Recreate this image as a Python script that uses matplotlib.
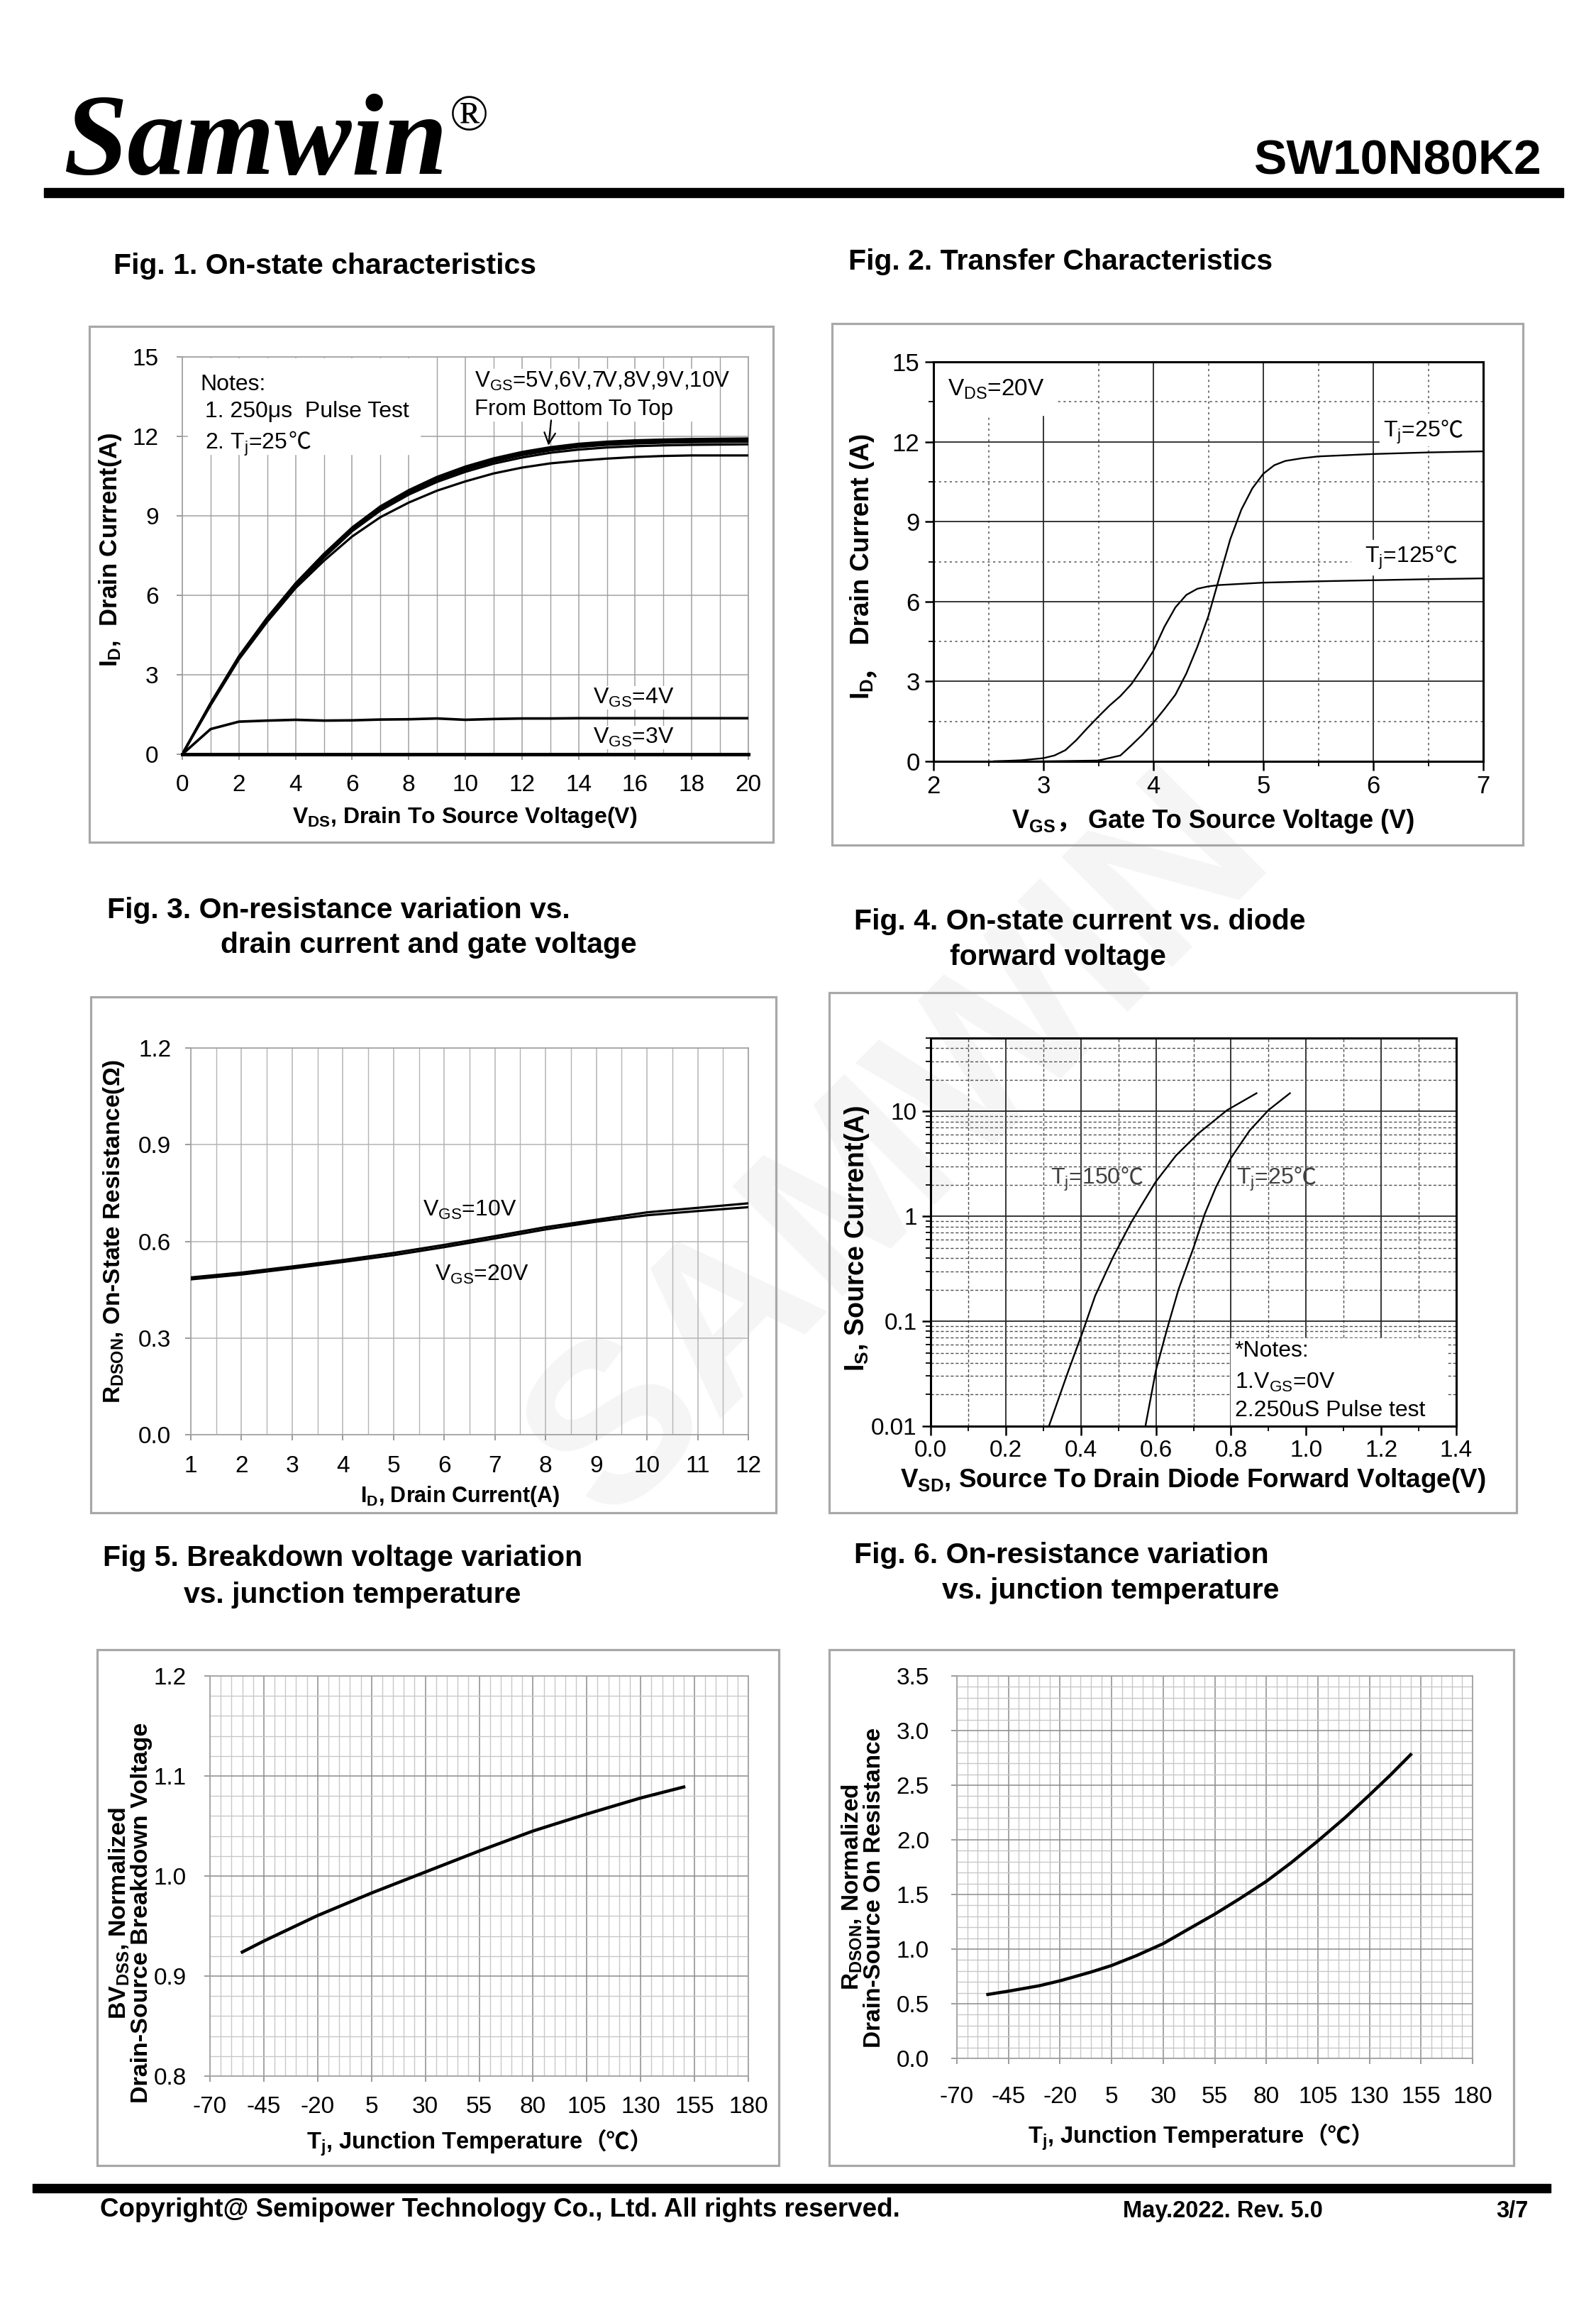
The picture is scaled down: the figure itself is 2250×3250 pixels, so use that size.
import numpy as np
import matplotlib
matplotlib.use("Agg")
import matplotlib.pyplot as plt
from matplotlib.patches import Rectangle
from matplotlib.transforms import offset_copy
from matplotlib.ticker import MultipleLocator, FixedLocator, FuncFormatter, LogLocator, NullFormatter

W, H = 2250, 3250

SANS = ['Liberation Sans', 'DejaVu Sans', 'Noto Sans CJK SC']
CJK = ['Noto Sans CJK SC', 'DejaVu Sans']

plt.rcParams['font.family'] = SANS
plt.rcParams['axes.unicode_minus'] = False
plt.rcParams['mathtext.fontset'] = 'custom'
plt.rcParams['mathtext.rm'] = 'Liberation Sans'
plt.rcParams['mathtext.bf'] = 'Liberation Sans:bold'
plt.rcParams['mathtext.sf'] = 'Liberation Sans:bold'
plt.rcParams['mathtext.tt'] = 'Liberation Sans'

# ---- Fig 1 data: on-state characteristics
vds = [0, 1, 2, 3, 4, 5, 6, 7, 8, 9, 10, 11, 12, 13, 14, 15, 16, 17, 18, 19, 20]
id_5v = [0, 1.85, 3.58, 5.0, 6.27, 7.3, 8.22, 8.95, 9.5, 9.95, 10.3, 10.6, 10.82, 10.98, 11.08, 11.16, 11.22, 11.26, 11.28, 11.28, 11.28]
id_6v = [0, 1.9, 3.62, 5.05, 6.32, 7.42, 8.42, 9.2, 9.8, 10.28, 10.66, 10.97, 11.2, 11.38, 11.5, 11.58, 11.63, 11.66, 11.68, 11.69, 11.7]
id_7v = [0, 1.9, 3.64, 5.08, 6.36, 7.46, 8.46, 9.25, 9.86, 10.35, 10.74, 11.05, 11.29, 11.47, 11.6, 11.68, 11.73, 11.76, 11.78, 11.79, 11.8]
id_8v = [0, 1.91, 3.66, 5.11, 6.39, 7.5, 8.5, 9.3, 9.9, 10.4, 10.79, 11.1, 11.34, 11.52, 11.65, 11.73, 11.78, 11.81, 11.83, 11.84, 11.85]
id_9v = [0, 1.92, 3.68, 5.14, 6.42, 7.53, 8.53, 9.33, 9.94, 10.44, 10.83, 11.14, 11.38, 11.56, 11.69, 11.77, 11.82, 11.85, 11.87, 11.88, 11.89]
id_10v = [0, 1.93, 3.7, 5.16, 6.45, 7.56, 8.56, 9.36, 9.97, 10.47, 10.86, 11.17, 11.41, 11.59, 11.72, 11.8, 11.85, 11.88, 11.9, 11.91, 11.92]
id_4v = [0, 0.95, 1.23, 1.27, 1.3, 1.27, 1.28, 1.31, 1.32, 1.35, 1.3, 1.33, 1.35, 1.35, 1.36, 1.36, 1.36, 1.36, 1.36, 1.36, 1.36]
id_3v = [0] * 21

# ---- Fig 2 data: transfer characteristics
vgs_25 = [2.55, 3.0, 3.5, 3.7, 3.8, 3.9, 4.0, 4.1, 4.2, 4.3, 4.4, 4.5, 4.6, 4.7, 4.8, 4.9, 5.0, 5.1, 5.2, 5.35, 5.5, 6.0, 6.5, 7.0]
id_25 = [0.0, 0.0, 0.03, 0.22, 0.6, 1.0, 1.45, 1.96, 2.5, 3.3, 4.3, 5.45, 6.9, 8.35, 9.45, 10.25, 10.8, 11.12, 11.28, 11.38, 11.45, 11.54, 11.6, 11.64]
vgs_125 = [2.55, 2.8, 3.0, 3.1, 3.2, 3.3, 3.4, 3.5, 3.6, 3.7, 3.8, 3.9, 4.0, 4.1, 4.2, 4.3, 4.4, 4.5, 4.6, 5.0, 5.5, 6.0, 6.5, 7.0]
id_125 = [0.0, 0.04, 0.12, 0.22, 0.42, 0.8, 1.25, 1.68, 2.09, 2.45, 2.9, 3.5, 4.15, 5.05, 5.78, 6.25, 6.48, 6.57, 6.62, 6.71, 6.76, 6.8, 6.84, 6.87]

# ---- Fig 3 data: on-resistance vs drain current
id_a = [1, 2, 3, 4, 5, 6, 7, 8, 9, 10, 11, 12]
rds_10v = [0.488, 0.503, 0.522, 0.542, 0.564, 0.589, 0.616, 0.644, 0.667, 0.69, 0.704, 0.718]
rds_20v = [0.482, 0.497, 0.516, 0.536, 0.557, 0.582, 0.609, 0.637, 0.661, 0.681, 0.694, 0.706]

# ---- Fig 4 data: diode forward characteristics
vsd_150 = [0.315, 0.366, 0.402, 0.438, 0.486, 0.533, 0.557, 0.599, 0.653, 0.712, 0.79, 0.868]
is_150 = [0.01, 0.033, 0.074, 0.174, 0.41, 0.86, 1.2, 2.12, 3.78, 6.12, 10.3, 14.9]
vsd_25 = [0.572, 0.60, 0.63, 0.66, 0.70, 0.73, 0.76, 0.80, 0.85, 0.90, 0.957]
is_25 = [0.01, 0.034, 0.085, 0.2, 0.5, 1.05, 1.9, 3.6, 6.6, 10.3, 14.9]

# ---- Fig 5 data: breakdown voltage vs Tj
tj_bv = [-55, -45, -20, 5, 30, 55, 80, 105, 130, 150]
bv_norm = [0.924, 0.935, 0.9605, 0.983, 1.004, 1.025, 1.045, 1.062, 1.078, 1.089]

# ---- Fig 6 data: on-resistance vs Tj
tj_rds = [-55, -45, -30, -20, -5, 5, 17, 30, 42, 55, 67, 80, 92, 105, 118, 130, 140, 150]
rds_norm = [0.585, 0.615, 0.665, 0.71, 0.79, 0.85, 0.94, 1.05, 1.18, 1.32, 1.46, 1.62, 1.79, 1.99, 2.2, 2.41, 2.59, 2.78]

temp_ticks = [-70, -45, -20, 5, 30, 55, 80, 105, 130, 155, 180]


fig = plt.figure(figsize=(W / 100, H / 100), dpi=100)
bg = fig.add_axes([0, 0, 1, 1])
bg.set_xlim(0, W)
bg.set_ylim(H, 0)
bg.axis('off')
renderer = fig.canvas.get_renderer()


def chain(a, x, y, pieces, size, ha='left', rot=0, **common):
    # lay text pieces side by side (x, y is the vertical centre of the run)
    em = size * 100 / 72.0
    common.setdefault('family', SANS)
    items = []
    for s, extra in pieces:
        kw = dict(common)
        kw.update(extra)
        t = a.text(x, y, s, fontsize=size, ha='left', va='baseline', **kw)
        items.append((t, t.get_window_extent(renderer).width))
    total = sum(w for _, w in items)
    off = {'left': 0.0, 'center': -total / 2, 'right': -total}[ha]
    for t, w in items:
        if rot == 0:
            t.set_transform(offset_copy(a.transData, fig=fig, x=off, y=-0.36 * em, units='dots'))
        else:
            t.set_transform(offset_copy(a.transData, fig=fig, x=0.36 * em, y=off, units='dots'))
            t.set_rotation(90)
            t.set_rotation_mode('anchor')
        off += w


# faint watermark
bg.text(1270, 1620, 'SAMWIN', rotation=45, fontsize=230, fontweight='bold', family=SANS,
        color='#f5f5f5', ha='center', va='center', zorder=0)

# header / footer
bg.text(89, 245, 'Samwin', family=['Liberation Serif', 'DejaVu Serif'], fontsize=117,
        fontweight='bold', style='italic', va='baseline')
bg.text(634, 183, '®', family=['Liberation Serif', 'DejaVu Serif'], fontsize=52, va='baseline')
bg.text(2174, 245, 'SW10N80K2', family=SANS, fontsize=50, fontweight='bold', ha='right', va='baseline')
bg.add_patch(Rectangle((62, 265), 2204 - 62, 13, color='black'))
bg.add_patch(Rectangle((46, 3078), 2186 - 46, 12, color='black'))
bg.text(141, 3114, 'Copyright@ Semipower Technology Co., Ltd. All rights reserved.', family=SANS,
        fontsize=26.5, fontweight='bold', va='center')
bg.text(1583, 3117, 'May.2022. Rev. 5.0', family=SANS, fontsize=23.5, fontweight='bold', va='center')
bg.text(2109, 3117, '3/7', family=SANS, fontsize=23.5, fontweight='bold', va='center')

# figure titles
titles = [
    (160, 375, 'Fig. 1. On-state characteristics'),
    (1196, 369, 'Fig. 2. Transfer Characteristics'),
    (151, 1283, 'Fig. 3. On-resistance variation vs.'),
    (311, 1332, 'drain current and gate voltage'),
    (1204, 1299, 'Fig. 4. On-state current vs. diode'),
    (1339, 1349, 'forward voltage'),
    (145, 2196, 'Fig 5. Breakdown voltage variation'),
    (259, 2248, 'vs. junction temperature'),
    (1204, 2192, 'Fig. 6. On-resistance variation'),
    (1328, 2242, 'vs. junction temperature'),
]
for tx, ty, s in titles:
    bg.text(tx, ty, s, family=SANS, fontsize=29.5, fontweight='bold', va='center')

# panel frames
for x0, y0, x1, y1 in [(126, 460, 1090, 1187), (1173, 456, 2147, 1191), (128, 1405, 1094, 2132),
                       (1169, 1399, 2138, 2132), (137, 2325, 1098, 3052), (1169, 2325, 2134, 3052)]:
    bg.add_patch(Rectangle((x0, y0), x1 - x0, y1 - y0, fill=False, ec='#a8a8a8', lw=2.3))


def panel_axes(x0, y0, x1, y1):
    a = fig.add_axes([x0 / W, 1 - y1 / H, (x1 - x0) / W, (y1 - y0) / H])
    a.set_facecolor('none')
    return a


def light_style(a, grid_major, grid_minor, size, xpad, ypad):
    a.grid(which='major', color=grid_major, lw=1.1)
    a.grid(which='minor', color=grid_minor, lw=1.0)
    for s in a.spines.values():
        s.set_color('#a0a0a0')
        s.set_linewidth(1.2)
    a.tick_params(which='major', length=6, width=1.1, color='#808080', labelsize=size,
                  labelfontfamily=SANS)
    a.tick_params(which='minor', length=0)
    a.tick_params(axis='x', pad=xpad)
    a.tick_params(axis='y', pad=ypad)


def dark_style(a, size):
    a.grid(which='major', color='#262626', lw=1.3)
    for s in a.spines.values():
        s.set_color('black')
        s.set_linewidth(2.2)
    a.tick_params(which='major', length=9, width=1.8, labelsize=size, labelfontfamily=SANS, pad=5)
    a.tick_params(which='minor', length=5, width=1.3)


# ---------------- Fig 1
ax1 = panel_axes(257, 503, 1055, 1063)
ax1.set_xlim(0, 20)
ax1.set_ylim(0, 15)
ax1.set_xticks(range(0, 21, 2))
ax1.set_yticks(range(0, 16, 3))
ax1.xaxis.set_minor_locator(MultipleLocator(1))
light_style(ax1, '#a0a0a0', '#a0a0a0', 24, 14, 18)
for curve in [id_5v, id_6v, id_7v, id_8v, id_9v, id_10v]:
    ax1.plot(vds, curve, color='black', lw=2.3, zorder=3)
ax1.plot(vds, id_4v, color='black', lw=2.6, zorder=3)
ax1.plot(vds, id_3v, color='black', lw=3.6, zorder=3, clip_on=False)
ax1.add_patch(Rectangle((0.19, 11.32), 8.2, 3.62, color='white', zorder=1.6))
ax1.add_patch(Rectangle((10.04, 12.6), 8.8, 1.94, color='white', zorder=1.6))
ax1.text(0.63, 13.96, 'Notes:', family=SANS, fontsize=23, va='center', zorder=4)
ax1.text(0.81, 12.93, '1. 250μs  Pulse Test', family=SANS, fontsize=23, va='center', zorder=4)
chain(ax1, 0.81, 11.84, [(r'2. $\mathrm{T_j}$=25 ', {}), ('℃', {'family': CJK})], 23, zorder=4)
ax1.text(10.32, 14.09, r'$\mathrm{V_{GS}}$=5V,6V,7V,8V,9V,10V', family=SANS, fontsize=22.5,
         va='center', zorder=4)
ax1.text(10.32, 13.02, 'From Bottom To Top', family=SANS, fontsize=22.5, va='center', zorder=4)
ax1.annotate('', xy=(12.93, 11.58), xytext=(13.04, 12.68),
             arrowprops=dict(arrowstyle='->', lw=1.6, color='black', mutation_scale=28), zorder=4)
ax1.text(14.5, 2.13, r'$\mathrm{V_{GS}}$=4V', family=SANS, fontsize=23, va='center', zorder=4,
         bbox=dict(fc='white', ec='none', pad=1))
ax1.text(14.5, 0.63, r'$\mathrm{V_{GS}}$=3V', family=SANS, fontsize=23, va='center', zorder=4,
         bbox=dict(fc='white', ec='none', pad=1))
bg.text(155, 775, r'$\mathsf{I_D}$,  Drain Current(A)', family=SANS, fontsize=25, fontweight='bold',
        rotation=90, ha='center', va='center')
bg.text(655, 1152, r'$\mathbf{V_{DS}}$, Drain To Source Voltage(V)', family=SANS, fontsize=23,
        fontweight='bold', ha='center', va='center')

# ---------------- Fig 2
ax2 = panel_axes(1316, 510, 2091, 1073)
ax2.set_xlim(2, 7)
ax2.set_ylim(0, 15)
ax2.set_xticks(range(2, 8))
ax2.set_yticks(range(0, 16, 3))
ax2.xaxis.set_minor_locator(MultipleLocator(0.5))
ax2.yaxis.set_minor_locator(MultipleLocator(1.5))
dark_style(ax2, 25)
ax2.grid(which='minor', color='#505050', lw=1.1, ls=(0, (2, 3)))
ax2.plot(vgs_25, id_25, color='black', lw=1.7, zorder=3)
ax2.plot(vgs_125, id_125, color='black', lw=1.7, zorder=3)
ax2.add_patch(Rectangle((2.01, 13.0), 1.11, 1.95, color='white', zorder=1.6))
ax2.add_patch(Rectangle((6.06, 11.85), 0.93, 1.2, color='white', zorder=1.6))
ax2.add_patch(Rectangle((5.8, 7.0), 1.19, 1.3, color='white', zorder=1.6))
ax2.text(2.13, 13.97, r'$\mathtt{V_{DS}}$=20V', family=SANS, fontsize=24, va='center', zorder=4)
chain(ax2, 6.09, 12.48, [(r'$\mathtt{T_j}$=25', {}), ('℃', {'family': CJK})], 23, zorder=4)
chain(ax2, 5.92, 7.77, [(r'$\mathtt{T_j}$=125', {}), ('℃', {'family': CJK})], 23, zorder=4)
chain(bg, 1212, 798, [(r'$\mathsf{I_D}$', {}), ('，', {'family': CJK}), (' Drain Current (A)', {})],
      26.5, ha='center', rot=90, fontweight='bold')
chain(bg, 1710, 1154, [(r'$\mathsf{V_{GS}}$', {}), ('，', {'family': CJK}),
                       (' Gate To Source Voltage (V)', {})],
      26, ha='center', fontweight='bold')

# ---------------- Fig 3
ax3 = panel_axes(269, 1477, 1055, 2022)
ax3.set_xlim(1, 12)
ax3.set_ylim(0, 1.2)
ax3.set_xticks(range(1, 13))
ax3.set_yticks([0.0, 0.3, 0.6, 0.9, 1.2])
ax3.yaxis.set_major_formatter(FuncFormatter(lambda v, p: '%.1f' % v))
ax3.xaxis.set_minor_locator(MultipleLocator(0.5))
light_style(ax3, '#b4b4b4', '#b4b4b4', 24, 15, 14)
ax3.plot(id_a, rds_10v, color='black', lw=2.3, zorder=3)
ax3.plot(id_a, rds_20v, color='black', lw=2.3, zorder=3)
ax3.text(5.57, 0.697, r'$\mathrm{V_{GS}}$=10V', family=SANS, fontsize=23, va='center')
ax3.text(5.82, 0.496, r'$\mathrm{V_{GS}}$=20V', family=SANS, fontsize=23, va='center')
bg.text(160, 1735, r'$\mathsf{R_{DSON}}$, On-State Resistance(Ω)', family=SANS, fontsize=24,
        fontweight='bold', rotation=90, ha='center', va='center')
bg.text(649, 2109, r'$\mathbf{I_D}$, Drain Current(A)', family=SANS, fontsize=22,
        fontweight='bold', ha='center', va='center')

# ---------------- Fig 4
ax4 = panel_axes(1312, 1463, 2053, 2010)
ax4.set_yscale('log')
ax4.set_xlim(0, 1.4)
ax4.set_ylim(0.01, 50)
ax4.set_xticks([0.0, 0.2, 0.4, 0.6, 0.8, 1.0, 1.2, 1.4])
ax4.xaxis.set_major_formatter(FuncFormatter(lambda v, p: '%.1f' % v))
ax4.xaxis.set_minor_locator(MultipleLocator(0.1))
ax4.yaxis.set_major_locator(FixedLocator([0.01, 0.1, 1, 10]))
ax4.yaxis.set_major_formatter(FuncFormatter(lambda v, p: '%g' % v))
ax4.yaxis.set_minor_locator(LogLocator(base=10, subs=[2, 3, 4, 5, 6, 7, 8, 9]))
ax4.yaxis.set_minor_formatter(NullFormatter())
dark_style(ax4, 24)
ax4.grid(which='minor', color='#505050', lw=1.0, ls=(0, (3, 2)))
ax4.plot(vsd_150, is_150, color='black', lw=1.7, zorder=3)
ax4.plot(vsd_25, is_25, color='black', lw=1.7, zorder=3)
chain(ax4, 0.319, 2.43, [(r'$\mathtt{T_j}$=150', {}), ('℃', {'family': CJK})], 23, color='#404040')
chain(ax4, 0.814, 2.43, [(r'$\mathtt{T_j}$=25', {}), ('℃', {'family': CJK})], 23, color='#404040')
ax4.add_patch(Rectangle((0.8, 0.01), 0.575, 0.059, color='white', zorder=1.6))
ax4.text(0.81, 0.052, '*Notes:', family=SANS, fontsize=23, va='center', zorder=4)
ax4.text(0.81, 0.0262, r'1.$\mathtt{V_{GS}}$=0V', family=SANS, fontsize=23, va='center', zorder=4)
ax4.text(0.81, 0.014, '2.250uS Pulse test', family=SANS, fontsize=23, va='center', zorder=4)
bg.text(1208, 1745, r'$\mathsf{I_S}$, Source Current(A)', family=SANS, fontsize=27, fontweight='bold',
        rotation=90, ha='center', va='center')
bg.text(1682, 2087, r'$\mathsf{V_{SD}}$, Source To Drain Diode Forward Voltage(V)', family=SANS,
        fontsize=26.5, fontweight='bold', ha='center', va='center')

# ---------------- Fig 5
ax5 = panel_axes(296, 2362, 1055, 2926)
ax5.set_xlim(-70, 180)
ax5.set_ylim(0.8, 1.2)
ax5.xaxis.set_major_locator(FixedLocator(temp_ticks))
ax5.xaxis.set_minor_locator(MultipleLocator(5))
ax5.set_yticks([0.8, 0.9, 1.0, 1.1, 1.2])
ax5.yaxis.set_major_formatter(FuncFormatter(lambda v, p: '%.1f' % v))
ax5.yaxis.set_minor_locator(MultipleLocator(0.02))
light_style(ax5, '#8c8c8c', '#c8c8c8', 24, 14, 18)
ax5.plot(tj_bv, bv_norm, color='black', lw=3.2, zorder=3)
bg.text(183, 2696, r'$\mathsf{BV_{DSS}}$, Normalized' + '\n' + 'Drain-Source Breakdown Voltage',
        family=SANS, fontsize=24.5, fontweight='bold', rotation=90, ha='center', va='center',
        multialignment='center', linespacing=0.95)
chain(bg, 676, 3017, [(r'$\mathbf{T_j}$, Junction Temperature ', {}), ('（℃）', {'family': CJK})],
      23.5, ha='center', fontweight='bold')

# ---------------- Fig 6
ax6 = panel_axes(1349, 2362, 2076, 2901)
ax6.set_xlim(-70, 180)
ax6.set_ylim(0, 3.5)
ax6.xaxis.set_major_locator(FixedLocator(temp_ticks))
ax6.xaxis.set_minor_locator(MultipleLocator(5))
ax6.set_yticks([0.0, 0.5, 1.0, 1.5, 2.0, 2.5, 3.0, 3.5])
ax6.yaxis.set_major_formatter(FuncFormatter(lambda v, p: '%.1f' % v))
ax6.yaxis.set_minor_locator(MultipleLocator(0.1))
light_style(ax6, '#8c8c8c', '#c8c8c8', 24, 22, 22)
ax6.plot(tj_rds, rds_norm, color='black', lw=3.2, zorder=3)
bg.text(1216, 2660, r'$\mathsf{R_{DSON}}$, Normalized' + '\n' + 'Drain-Source On Resistance',
        family=SANS, fontsize=24, fontweight='bold', rotation=90, ha='center', va='center',
        multialignment='center', linespacing=0.95)
chain(bg, 1693, 3009, [(r'$\mathbf{T_j}$, Junction Temperature ', {}), ('（℃）', {'family': CJK})],
      23.5, ha='center', fontweight='bold')

fig.savefig('out.png', dpi=100, facecolor='white')
